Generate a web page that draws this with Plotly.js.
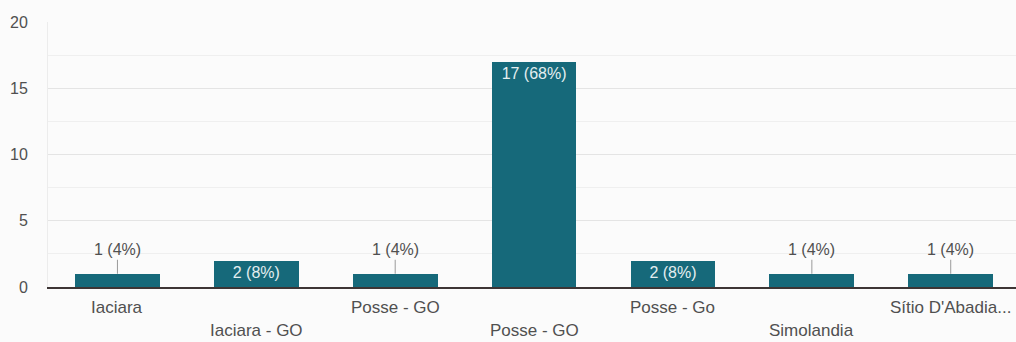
<!DOCTYPE html>
<html>
<head>
<meta charset="utf-8">
<script src="https://cdn.plot.ly/plotly-3.0.1.min.js"></script>
<style>
  html, body { margin: 0; padding: 0; background: #fbfbfb; }
  #chart { width: 1016px; height: 342px; }
</style>
</head>
<body>
<div id="chart"></div>
<script>
// Municípios e contagem de respostas
const categories = ["Iaciara", "Iaciara - GO", "Posse - GO", "Posse - GO", "Posse - Go", "Simolandia", "Sítio D'Abadia..."];
const counts = [1, 2, 1, 17, 2, 1, 1];
const percents = [4, 8, 4, 68, 8, 4, 4];
const yTicks = [0, 5, 10, 15, 20];

const positions = categories.map((_, i) => i);
const labels = counts.map((c, i) => c + " (" + percents[i] + "%)");

const BAR = "#16697a";
const TEXT = "#505050";
const FONT = "Liberation Sans, Arial, sans-serif";

// Larger bars carry their label inside, at the top; single-answer bars get a callout above
const insideText = counts.map((c, i) => c > 1 ? labels[i] : "");

const annotations = [];
counts.forEach((c, i) => {
  if (c <= 1) {
    annotations.push({
      x: positions[i], y: c, xref: "x", yref: "y",
      text: labels[i], showarrow: true, arrowhead: 0, arrowwidth: 1,
      arrowcolor: "#9a9a9a", ax: 0, ay: -24, standoff: 0,
      font: { family: FONT, size: 16, color: TEXT }
    });
  }
  // category names alternate between two rows under the axis
  annotations.push({
    x: positions[i], y: 0, xref: "x", yref: "paper",
    yanchor: "top", yshift: i % 2 === 0 ? -9 : -32,
    text: categories[i], showarrow: false,
    font: { family: FONT, size: 17, color: TEXT }
  });
});

const trace = {
  type: "bar",
  x: positions,
  y: counts,
  width: 0.61,
  marker: { color: BAR, line: { width: 0 } },
  text: insideText,
  textposition: "inside",
  insidetextanchor: "end",
  constraintext: "none",
  textfont: { family: FONT, size: 16, color: "#e4eef0" },
  hoverinfo: "skip"
};

const layout = {
  width: 1016, height: 342,
  margin: { l: 48, r: 0, t: 22, b: 55 },
  paper_bgcolor: "#fbfbfb",
  plot_bgcolor: "#fbfbfb",
  showlegend: false,
  bargap: 0,
  font: { family: FONT, size: 16, color: TEXT },
  xaxis: {
    range: [-0.5, 6.47],
    showticklabels: false,
    showgrid: false,
    zeroline: false,
    showline: true, linecolor: "#3d3535", linewidth: 2,
    fixedrange: true
  },
  yaxis: {
    range: [0, 20],
    tickvals: yTicks,
    ticktext: yTicks.map(String),
    ticks: "",
    ticklabelstandoff: 16,
    tickfont: { size: 16, color: TEXT },
    showgrid: true, gridcolor: "#e4e4e4", gridwidth: 1,
    minor: { dtick: 2.5, showgrid: true, gridcolor: "#efefef", gridwidth: 1 },
    zeroline: false,
    showline: true, linecolor: "#ececec", linewidth: 1,
    fixedrange: true
  },
  annotations: annotations
};

Plotly.newPlot("chart", [trace], layout, { displayModeBar: false, staticPlot: true });
</script>
</body>
</html>
